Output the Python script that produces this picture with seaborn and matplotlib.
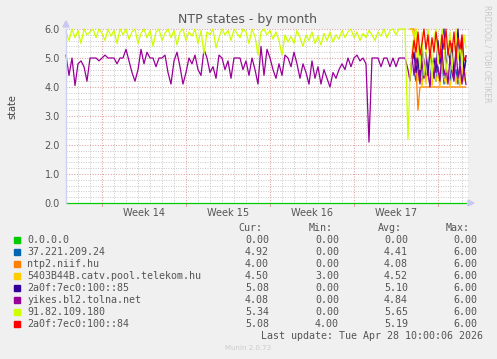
import matplotlib
matplotlib.use("Agg")
import matplotlib.pyplot as plt
import numpy as np
import pandas as pd
import seaborn as sns
from matplotlib.patches import Rectangle

W, H = 497, 359

SERIES = ["0.0.0.0", "37.221.209.24", "ntp2.niif.hu", "5403B44B.catv.pool.telekom.hu",
          "2a0f:7ec0:100::85", "yikes.bl2.tolna.net", "91.82.109.180", "2a0f:7ec0:100::84"]
COLORS = ["#00cc00", "#0066b3", "#ff8000", "#ffcc00", "#330099", "#990099", "#ccff00", "#ff0000"]

CUR = ["0.00", "4.92", "4.00", "4.50", "5.08", "4.08", "5.34", "5.08"]
MIN = ["0.00", "0.00", "0.00", "3.00", "0.00", "0.00", "0.00", "4.00"]
AVG = ["0.00", "4.41", "4.08", "4.52", "5.10", "4.84", "5.65", "5.19"]
MAX = ["0.00", "6.00", "6.00", "6.00", "6.00", "6.00", "6.00", "6.00"]

WEEK_LABELS = ["Week 14", "Week 15", "Week 16", "Week 17"]
WEEK_MID = [6.5, 13.5, 20.5, 27.5]        # days from left edge
WEEK_START = [3, 10, 17, 24, 31]

# samples every 6 h for the first four weeks, every 4 h for the last days
early_days = np.arange(114) * 0.25
late_days = 28.5 + np.arange(30) / 6

purple_early = [5.1, 4.4, 5.0, 4.05, 4.8, 4.9, 4.7, 4.2, 5.0, 5.0,
                5.0, 4.9, 5.0, 5.1, 5.0, 5.0, 5.0, 4.8, 5.0, 5.0,
                5.3, 4.9, 4.5, 4.2, 4.6, 5.3, 4.8, 5.2, 5.0, 5.0,
                4.7, 5.0, 5.0, 5.1, 4.5, 4.1, 4.9, 5.2, 4.7, 4.1,
                4.5, 5.0, 4.8, 5.1, 4.6, 4.4, 5.3, 5.0, 4.5, 4.7,
                4.3, 5.1, 5.0, 4.6, 4.9, 4.3, 5.0, 5.0, 5.0, 4.6,
                4.9, 4.4, 5.0, 4.6, 4.1, 5.4, 4.4, 5.3, 5.0, 4.6,
                4.3, 4.8, 4.4, 5.1, 5.0, 4.7, 5.2, 4.8, 4.3, 4.8,
                4.5, 4.1, 4.9, 4.3, 4.7, 4.1, 4.6, 4.3, 4.0, 4.5,
                4.3, 4.6, 4.8, 4.6, 5.0, 4.7, 5.0, 5.1, 4.9, 5.0,
                4.8, 2.1, 5.0, 5.0, 5.0, 4.7, 5.0, 5.0, 4.7, 5.0,
                4.7, 5.0, 5.0, 5.0]
purple_late = [4.6, 4.2, 5.1, 4.4, 5.0, 4.6, 4.1, 4.9, 4.3, 5.2,
               4.5, 4.0, 4.8, 4.3, 5.0, 4.6, 4.2, 5.3, 4.4, 4.7,
               4.1, 5.0, 4.5, 4.2, 5.4, 4.3, 4.8, 4.1, 4.6, 4.08]

yellow_early = [5.9, 5.6, 6.0, 5.7, 5.95, 5.5, 6.0, 5.8, 5.9, 6.0,
                5.7, 6.0, 5.85, 5.6, 6.0, 5.75, 5.95, 5.5, 6.0, 5.8,
                6.0, 5.65, 5.9, 6.0, 5.5, 5.85, 6.0, 5.7, 5.95, 5.4,
                5.9, 6.0, 5.6, 5.85, 6.0, 5.7, 5.95, 5.45, 5.9, 6.0,
                5.6, 5.9, 5.75, 6.0, 5.5, 5.95, 5.15, 5.9, 5.8, 6.0,
                5.35, 5.7, 6.0, 5.8, 5.95, 5.6, 6.0, 5.85, 5.7, 6.0,
                5.9, 5.5, 6.0, 5.75, 5.1, 5.9, 6.0, 5.8, 5.95, 5.65,
                5.9, 5.6, 5.1, 5.8, 5.55, 5.75, 5.5, 5.95, 5.7, 5.4,
                5.8, 5.6, 5.9, 5.5, 5.75, 5.45, 5.85, 5.6, 5.9, 5.55,
                5.8, 5.65, 5.95, 5.7, 5.9, 6.0, 5.7, 5.9, 5.6, 5.85,
                5.7, 5.95, 5.8, 5.6, 5.9, 5.75, 6.0, 5.7, 5.95, 6.0,
                5.8, 6.0, 6.0, 6.0]
yellow_late = [2.2, 4.3, 5.2, 5.8, 6.0, 5.4, 4.6, 5.9, 4.4, 5.1,
               6.0, 5.5, 4.3, 5.7, 6.0, 4.8, 5.3, 6.0, 5.6, 4.5,
               5.2, 5.9, 4.6, 5.4, 6.0, 4.9, 5.5, 4.7, 5.8, 5.34]

red_late = [np.nan, np.nan, 5.0, 5.6, 5.2, 5.9, 5.1, 5.5, 6.0, 5.3,
            5.8, 5.0, 5.7, 5.2, 5.9, 5.4, 5.0, 5.8, 5.3, 6.0,
            5.1, 5.6, 5.2, 5.9, 5.0, 5.7, 5.3, 5.8, 4.9, 5.08]
darkblue_late = [np.nan, np.nan, 4.8, 5.2, 4.5, 5.0, 4.3, 5.4, 4.6, 5.1,
                 4.4, 5.3, 4.7, 5.0, 4.5, 5.6, 4.8, 5.2, 6.0, 4.6,
                 5.3, 4.9, 5.5, 4.4, 5.1, 6.0, 4.8, 5.7, 4.5, 5.08]
blue_late = [np.nan, np.nan, np.nan, 4.6, 4.2, 4.9, 4.4, 4.1, 4.8, 4.3,
             4.6, 4.1, 4.9, 4.4, 4.2, 4.7, 4.3, 4.9, 4.1, 4.6,
             4.4, 4.2, 4.8, 4.3, 4.6, 4.1, 4.7, 4.3, 4.5, 4.92]
orange_late = [np.nan, 6.0, 6.0, 6.0, 4.7, 3.2, 4.0, 4.0, 4.0, 4.0,
               4.0, 4.0, 4.0, 4.0, 4.0, 4.0, 4.0, 4.0, 4.0, 4.0,
               4.0, 4.0, 4.0, 4.0, 4.0, 4.0, 4.0, 4.0, 4.0, 4.0]
gold_late = [np.nan, 6.0, 6.0, 5.7, 6.0, 4.2, 4.5, 4.0, 4.6, 4.1,
             4.8, 4.3, 4.0, 4.7, 4.2, 4.5, 4.0, 4.9, 4.3, 4.1,
             4.6, 4.0, 4.4, 4.8, 4.1, 4.5, 4.0, 4.7, 4.2, 4.5]
green_all = [0.0] * (len(early_days) + len(late_days))


def px(x, y):
    return x / W, 1 - y / H


all_days = np.concatenate([early_days, late_days])
frames = [
    pd.DataFrame({"day": all_days, "state": green_all, "series": SERIES[0]}),
    pd.DataFrame({"day": late_days, "state": blue_late, "series": SERIES[1]}),
    pd.DataFrame({"day": late_days, "state": orange_late, "series": SERIES[2]}),
    pd.DataFrame({"day": late_days, "state": gold_late, "series": SERIES[3]}),
    pd.DataFrame({"day": late_days, "state": darkblue_late, "series": SERIES[4]}),
    pd.DataFrame({"day": all_days, "state": purple_early + purple_late, "series": SERIES[5]}),
    pd.DataFrame({"day": all_days, "state": yellow_early + yellow_late, "series": SERIES[6]}),
    pd.DataFrame({"day": late_days, "state": red_late, "series": SERIES[7]}),
]
df = pd.concat(frames).dropna()

sns.set_style("white")
plt.rcParams["font.family"] = ["DejaVu Sans"]

fig = plt.figure(figsize=(W / 100, H / 100), dpi=100, facecolor="#f0f0f0")
x0, y0 = px(66, 203)
x1, y1 = px(467.5, 29)
ax = fig.add_axes([x0, y0, x1 - x0, y1 - y0], facecolor="white")

# grid
grey = "#c8c8c8"
red = "#e0a0a0"
dots = (0, (1, 1.5))
for d in range(1, 34):
    if d not in WEEK_START:
        ax.axvline(d, color=grey, lw=0.7, ls=dots, zorder=0)
for d in WEEK_START:
    ax.axvline(d, color=red, lw=0.75, ls=dots, zorder=0)
    ax.plot([d, d], [-0.12, 0], color=red, lw=0.75, clip_on=False, zorder=0)
for v in np.arange(0.2, 6.01, 0.2):
    if abs(v - round(v)) > 1e-6:
        ax.axhline(v, color=grey, lw=0.7, ls=dots, zorder=0)
for v in range(1, 7):
    ax.axhline(v, color=red, lw=0.75, ls=dots, zorder=0)

sns.lineplot(data=df, x="day", y="state", hue="series", hue_order=SERIES,
             palette=COLORS, estimator=None, sort=False, lw=0.9, legend=False, ax=ax)
for line in ax.lines:
    line.set_clip_on(False)

ax.set_xlim(0, 33.46)
ax.set_ylim(0, 6)
ax.set_yticks(range(7))
ax.set_yticklabels([f"{v:.1f}" for v in range(7)])
ax.set_xticks(WEEK_MID)
ax.set_xticklabels(WEEK_LABELS)
ax.tick_params(axis="both", length=0, labelsize=7, labelcolor="#555555")
ax.tick_params(axis="y", pad=4.3)
ax.tick_params(axis="x", pad=3.5)
ax.set_xlabel("")
ax.set_ylabel("")
for s in ["top", "right", "bottom"]:
    ax.spines[s].set_visible(False)
ax.spines["left"].set_color("#d0d0f0")
ax.spines["left"].set_linewidth(1)

# axis arrows
arrow = "#c8c8f0"
fig.patches.append(plt.Polygon([px(63, 27), px(69, 27), px(66, 21)], closed=True,
                               transform=fig.transFigure, color=arrow, figure=fig))
fig.patches.append(plt.Polygon([px(468, 200), px(468, 206), px(474, 203)], closed=True,
                               transform=fig.transFigure, color=arrow, figure=fig))

fig.text(*px(248, 19), "NTP states - by month", ha="center", va="center",
         fontsize=9, color="#555555")
fig.text(*px(12, 107), "state", ha="center", va="center", rotation=90,
         fontsize=7, color="#444444")
fig.text(*px(487, 5), "RRDTOOL / TOBI OETIKER", ha="center", va="top",
         rotation=270, fontsize=5.5, color="#c8c8c8")

# legend table
mono = dict(family="DejaVu Sans Mono", fontsize=7.2, color="#555555", va="center")
for x, head in zip([262, 333, 402, 470], ["Cur:", "Min:", "Avg:", "Max:"]):
    fig.text(*px(x, 227.7), head, ha="right", **mono)
for i, name in enumerate(SERIES):
    y = 239.7 + 12 * i
    fig.patches.append(Rectangle(px(14, y + 3), 6 / W, 6 / H, transform=fig.transFigure,
                                 color=COLORS[i], figure=fig))
    fig.text(*px(27, y), name, ha="left", **mono)
    for x, col in zip([269, 339, 408, 477], [CUR, MIN, AVG, MAX]):
        fig.text(*px(x, y), col[i], ha="right", **mono)
fig.text(*px(483, 335.7), "Last update: Tue Apr 28 10:00:06 2026", ha="right", **mono)
fig.text(*px(248, 348), "Munin 2.0.73", ha="center", va="center",
         fontsize=5, color="#cccccc")

fig.savefig("out.png", dpi=100, facecolor=fig.get_facecolor())
